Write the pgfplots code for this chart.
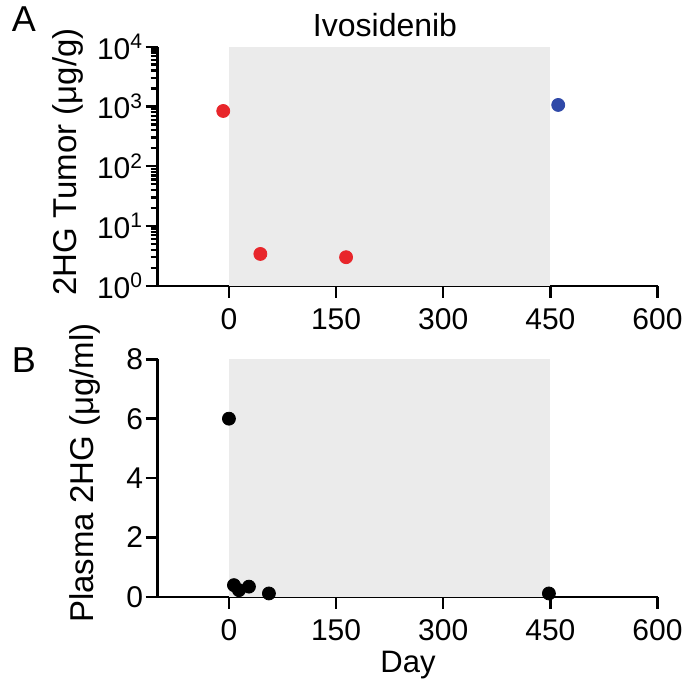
\documentclass[border=0pt]{standalone}
\usepackage{fontspec}
\setmainfont{Liberation Sans}
\usepackage{pgfplots}
\pgfplotsset{compat=1.18}
\usepackage{xcolor}
\definecolor{shade}{HTML}{EBEBEB}
\definecolor{ptred}{HTML}{E8262B}
\definecolor{ptblue}{HTML}{2F49A8}

\pgfplotsset{
  panel/.style={
    scale only axis, width=250pt,
    axis lines=left,
    axis line style={-, line width=1.2pt},
    tick style={black, line width=1.2pt},
    tick align=outside,
    major tick length=6pt, minor tick length=3.5pt,
    xmin=-100, xmax=600,
    xtick={0,150,300,450,600},
    yticklabel style={inner sep=1pt},
    /pgf/number format/assume math mode=true,
  },
}

\begin{document}
\fontsize{15pt}{18pt}\selectfont
\begin{tikzpicture}
\useasboundingbox (0,0) rectangle (344pt,-342pt);

% panel A: tumour 2HG
\begin{axis}[panel,
  at={(78.75pt,-142.85pt)}, anchor=south west, height=119.5pt,
  ymode=log, log basis y=10, ymin=1, ymax=10000,
  yticklabel={10\textsuperscript{\pgfmathparse{int(round(\tick))}\pgfmathresult}},
  clip=false,
]
\addplot[draw=none, fill=shade] coordinates {(0,1) (450,1) (450,10000) (0,10000)} -- cycle;
\addplot[only marks, mark=*, mark size=3.25pt, color=ptred] coordinates {(-8,840) (44,3.4) (164,3.0)};
\addplot[only marks, mark=*, mark size=3.25pt, color=ptblue] coordinates {(461,1060)};
\end{axis}

% panel B: plasma 2HG
\begin{axis}[panel,
  at={(78.75pt,-298.35pt)}, anchor=south west, height=118.7pt,
  ymin=0, ymax=8, ytick={0,2,4,6,8},
  clip=false,
]
\addplot[draw=none, fill=shade] coordinates {(0,0) (450,0) (450,8) (0,8)} -- cycle;
\addplot[only marks, mark=*, mark size=3.25pt, color=black] coordinates {(0,6.0) (7,0.39) (14,0.22) (28,0.34) (56,0.11) (448,0.11)};
\end{axis}

\node[anchor=base, font=\fontsize{16pt}{19pt}\selectfont] at (192.5pt,-18.5pt) {Ivosidenib};
\node[anchor=base, font=\fontsize{18pt}{21pt}\selectfont] at (12pt,-16pt) {A};
\node[anchor=base, font=\fontsize{18pt}{21pt}\selectfont] at (12pt,-186pt) {B};
\node[anchor=base, rotate=90, font=\fontsize{16.5pt}{19pt}\selectfont] at (38.3pt,-81pt) {2HG Tumor (μg/g)};
\node[anchor=base, rotate=90, font=\fontsize{16.5pt}{19pt}\selectfont] at (46.8pt,-236.5pt) {Plasma 2HG (μg/ml)};
\node[anchor=base, font=\fontsize{15.5pt}{18pt}\selectfont] at (204pt,-336pt) {Day};
\end{tikzpicture}
\end{document}
